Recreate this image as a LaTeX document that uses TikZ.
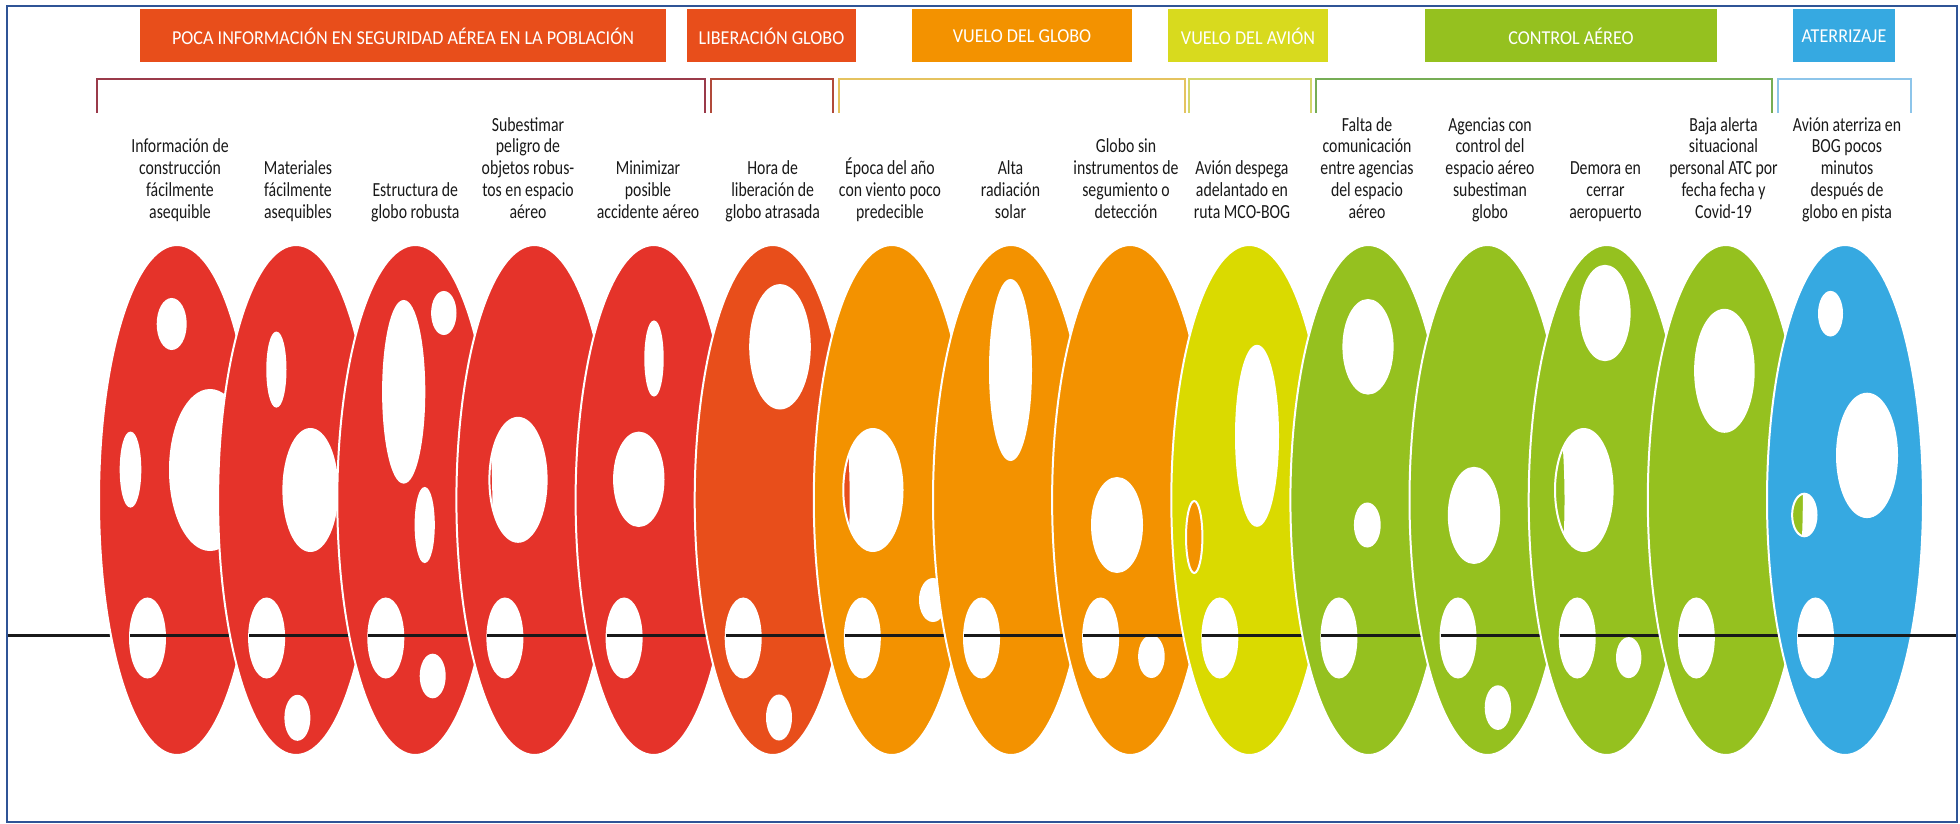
\documentclass[tikz,border=0pt]{standalone}
\usepackage{fontspec}
\setmainfont{Carlito}[FakeStretch=0.79]
\newfontfamily\hdrfont{Carlito}[FakeStretch=0.92]
\definecolor{cRed}{HTML}{E5332A}
\definecolor{cRedOr}{HTML}{E84E1B}
\definecolor{cOrange}{HTML}{F39200}
\definecolor{cYellow}{HTML}{DADA00}
\definecolor{cYellowBox}{HTML}{D8DA1E}
\definecolor{cGreen}{HTML}{95C11F}
\definecolor{cBlue}{HTML}{36A9E1}
\definecolor{cFrame}{HTML}{2F5496}
\definecolor{bA}{HTML}{9A3A4A}
\definecolor{bB}{HTML}{B14A3A}
\definecolor{bC}{HTML}{E5C35F}
\definecolor{bD}{HTML}{D3D66B}
\definecolor{bE}{HTML}{76AD55}
\definecolor{bF}{HTML}{8DC5EA}
\begin{document}
\begin{tikzpicture}[x=1pt,y=-1pt,
  slice/.style={draw=white,line width=2pt,even odd rule},
  thread/.style={draw=black!90,line width=3pt},
  hdr/.style={minimum height=53pt,inner sep=0pt,text=white,font=\hdrfont\fontsize{19.7}{22}\selectfont},
  lbl/.style={anchor=base,inner sep=0pt,font=\fontsize{20}{21.7}\selectfont,text=black!90},
  brk/.style={line width=1.5pt}]
\useasboundingbox (0,0) rectangle (1960,824);

% header boxes
\node[hdr,fill=cRedOr,minimum width=526pt] (h1) at (403,36) {POCA INFORMACIÓN EN SEGURIDAD AÉREA EN LA POBLACIÓN};
\node[hdr,fill=cRedOr,minimum width=169pt] (h2) at (771.5,36) {LIBERACIÓN GLOBO};
\node[hdr,fill=cOrange,minimum width=220pt] (h3) at (1022,36) {VUELO DEL GLOBO};
\node[hdr,fill=cYellowBox,minimum width=160pt] (h4) at (1248,36) {VUELO DEL AVIÓN};
\node[hdr,fill=cGreen,minimum width=292pt] (h5) at (1571,36) {CONTROL AÉREO};
\node[hdr,fill=cBlue,minimum width=102pt] (h6) at (1844,36) {ATERRIZAJE};

% brackets
\draw[brk,draw=bA] (97,113) -- (97,79) -- (705,79) -- (705,113);
\draw[brk,draw=bB] (711,113) -- (711,79) -- (833,79) -- (833,113);
\draw[brk,draw=bC] (839,113) -- (839,79) -- (1185,79) -- (1185,113);
\draw[brk,draw=bD] (1189,113) -- (1189,79) -- (1311,79) -- (1311,113);
\draw[brk,draw=bE] (1316,113) -- (1316,79) -- (1772,79) -- (1772,113);
\draw[brk,draw=bF] (1778,113) -- (1778,79) -- (1911,79) -- (1911,113);

% labels
\node[lbl] (l1) at (180,218) {\begin{tabular}[b]{@{}c@{}}Información de\\construcción\\fácilmente\\asequible\end{tabular}};
\node[lbl] (l2) at (298,218) {\begin{tabular}[b]{@{}c@{}}Materiales\\fácilmente\\asequibles\end{tabular}};
\node[lbl] (l3) at (415.3,218) {\begin{tabular}[b]{@{}c@{}}Estructura de\\globo robusta\end{tabular}};
\node[lbl] (l4) at (528,218) {\begin{tabular}[b]{@{}c@{}}Subestimar\\peligro de\\objetos robus-\\tos en espacio\\aéreo\end{tabular}};
\node[lbl] (l5) at (648,218) {\begin{tabular}[b]{@{}c@{}}Minimizar\\posible\\accidente aéreo\end{tabular}};
\node[lbl] (l6) at (772.7,218) {\begin{tabular}[b]{@{}c@{}}Hora de\\liberación de\\globo atrasada\end{tabular}};
\node[lbl] (l7) at (890,218) {\begin{tabular}[b]{@{}c@{}}Época del año\\con viento poco\\predecible\end{tabular}};
\node[lbl] (l8) at (1010.5,218) {\begin{tabular}[b]{@{}c@{}}Alta\\radiación\\solar\end{tabular}};
\node[lbl] (l9) at (1126,218) {\begin{tabular}[b]{@{}c@{}}Globo sin\\instrumentos de\\segumiento o\\detección\end{tabular}};
\node[lbl] (l10) at (1242,218) {\begin{tabular}[b]{@{}c@{}}Avión despega\\adelantado en\\ruta MCO-BOG\end{tabular}};
\node[lbl] (l11) at (1367,218) {\begin{tabular}[b]{@{}c@{}}Falta de\\comunicación\\entre agencias\\del espacio\\aéreo\end{tabular}};
\node[lbl] (l12) at (1490,218) {\begin{tabular}[b]{@{}c@{}}Agencias con\\control del\\espacio aéreo\\subestiman\\globo\end{tabular}};
\node[lbl] (l13) at (1605.5,218) {\begin{tabular}[b]{@{}c@{}}Demora en\\cerrar\\aeropuerto\end{tabular}};
\node[lbl] (l14) at (1723.5,218) {\begin{tabular}[b]{@{}c@{}}Baja alerta\\situacional\\personal ATC por\\fecha fecha y\\Covid-19\end{tabular}};
\node[lbl] (l15) at (1847,218) {\begin{tabular}[b]{@{}c@{}}Avión aterriza en\\BOG pocos\\minutos\\después de\\globo en pista\end{tabular}};

% thread before first slice
\coordinate (t0) at (7,635);
\coordinate (t0e) at (180,635);
\draw[thread] (t0) -- (t0e);

% slice 1
\path[slice,fill=cRed] (177,500) ellipse[x radius=78,y radius=255]
  (147.5,638) ellipse[x radius=17.5,y radius=39.5]
  (171.7,324) ellipse[x radius=14,y radius=25]
  (130.5,469.6) ellipse[x radius=9.8,y radius=37]
  (210,470) ellipse[x radius=40,y radius=80];
\draw[thread] (130,635) -- (245,635);
% slice 2
\path[slice,fill=cRed] (296.1,500) ellipse[x radius=78,y radius=255]
  (266.6,638) ellipse[x radius=17.5,y radius=39.5]
  (276.4,369.6) ellipse[x radius=9.1,y radius=37]
  (310.4,490) ellipse[x radius=27,y radius=61]
  (297.4,717.8) ellipse[x radius=12,y radius=22];
\draw[thread] (249.1,635) -- (364.1,635);
% slice 3
\path[slice,fill=cRed] (415.3,500) ellipse[x radius=78,y radius=255]
  (385.8,638) ellipse[x radius=17.5,y radius=39.5]
  (443.8,313) ellipse[x radius=11.7,y radius=21]
  (403.7,391.8) ellipse[x radius=20.6,y radius=90.8]
  (424.7,525) ellipse[x radius=9.1,y radius=37]
  (432.7,676) ellipse[x radius=12,y radius=21.3];
\draw[thread] (368.3,635) -- (483.3,635);
% slice 4
\path[slice,fill=cRed] (534.4,500) ellipse[x radius=78,y radius=255]
  (504.9,638) ellipse[x radius=17.5,y radius=39.5]
  (518,479.8) ellipse[x radius=28.6,y radius=62];
\draw[thread] (487.4,635) -- (602.4,635);
% slice 5
\path[slice,fill=cRed] (653.6,500) ellipse[x radius=78,y radius=255]
  (624.1,638) ellipse[x radius=17.5,y radius=39.5]
  (654,358.5) ellipse[x radius=8.7,y radius=37]
  (638.8,479.3) ellipse[x radius=24.7,y radius=46.7];
\draw[thread] (606.6,635) -- (721.6,635);
% slice 6
\path[slice,fill=cRedOr] (772.7,500) ellipse[x radius=78,y radius=255]
  (743.2,638) ellipse[x radius=17.5,y radius=39.5]
  (780,346.8) ellipse[x radius=29.8,y radius=61.7]
  (779,717.5) ellipse[x radius=12,y radius=22];
\draw[thread] (725.7,635) -- (840.7,635);
% slice 7
\path[slice,fill=cOrange] (891.8,500) ellipse[x radius=78,y radius=255]
  (862.3,638) ellipse[x radius=17.5,y radius=39.5]
  (872.9,490) ellipse[x radius=29.6,y radius=61]
  (933,600) ellipse[x radius=13,y radius=21];
\draw[thread] (844.8,635) -- (959.8,635);
% slice 8
\path[slice,fill=cOrange] (1011,500) ellipse[x radius=78,y radius=255]
  (981.5,638) ellipse[x radius=17.5,y radius=39.5]
  (1010.5,370) ellipse[x radius=20.5,y radius=90];
\draw[thread] (964,635) -- (1079,635);
% slice 9
\path[slice,fill=cOrange] (1130.1,500) ellipse[x radius=78,y radius=255]
  (1100.6,638) ellipse[x radius=17.5,y radius=39.5]
  (1117,525) ellipse[x radius=25,y radius=47]
  (1151.4,656.5) ellipse[x radius=12.3,y radius=20.5];
\draw[thread] (1083.1,635) -- (1198.1,635);
% slice 10
\path[slice,fill=cYellow] (1249.3,500) ellipse[x radius=78,y radius=255]
  (1219.8,638) ellipse[x radius=17.5,y radius=39.5]
  (1257,435.8) ellipse[x radius=21,y radius=90]
  (1194.2,537) ellipse[x radius=8.2,y radius=36];
\draw[thread] (1202.3,635) -- (1317.3,635);
% slice 11
\path[slice,fill=cGreen] (1368.4,500) ellipse[x radius=78,y radius=255]
  (1338.9,638) ellipse[x radius=17.5,y radius=39.5]
  (1368,346.8) ellipse[x radius=24.6,y radius=46.8]
  (1367.3,525) ellipse[x radius=12.4,y radius=21.5];
\draw[thread] (1321.4,635) -- (1436.4,635);
% slice 12
\path[slice,fill=cGreen] (1487.5,500) ellipse[x radius=78,y radius=255]
  (1458,638) ellipse[x radius=17.5,y radius=39.5]
  (1474,515.4) ellipse[x radius=25.2,y radius=47.6]
  (1497.9,707.6) ellipse[x radius=12.2,y radius=21.3];
\draw[thread] (1440.5,635) -- (1555.5,635);
% slice 13
\path[slice,fill=cGreen] (1606.7,500) ellipse[x radius=78,y radius=255]
  (1577.2,638) ellipse[x radius=17.5,y radius=39.5]
  (1605,313) ellipse[x radius=24.6,y radius=47.2]
  (1583.8,490) ellipse[x radius=28.8,y radius=61]
  (1628.7,657.6) ellipse[x radius=11.7,y radius=19.5];
\draw[thread] (1559.7,635) -- (1674.7,635);
% slice 14
\path[slice,fill=cGreen] (1725.8,500) ellipse[x radius=78,y radius=255]
  (1696.3,638) ellipse[x radius=17.5,y radius=39.5]
  (1724.4,370.8) ellipse[x radius=29.3,y radius=61];
\draw[thread] (1678.8,635) -- (1793.8,635);
% slice 15
\path[slice,fill=cBlue] (1845,500) ellipse[x radius=78,y radius=255]
  (1815.5,638) ellipse[x radius=17.5,y radius=39.5]
  (1830.5,313.7) ellipse[x radius=11.5,y radius=21.8]
  (1867,455.4) ellipse[x radius=30,y radius=61.7]
  (1804.3,515) ellipse[x radius=12.2,y radius=21.3];
\coordinate (t15) at (1798,635);
\coordinate (tEnd) at (1957,635);
\draw[thread] (t15) -- (tEnd);

% frame
\draw[cFrame,line width=2.5pt] (7,6) rectangle (1957,822);
\end{tikzpicture}
\end{document}
